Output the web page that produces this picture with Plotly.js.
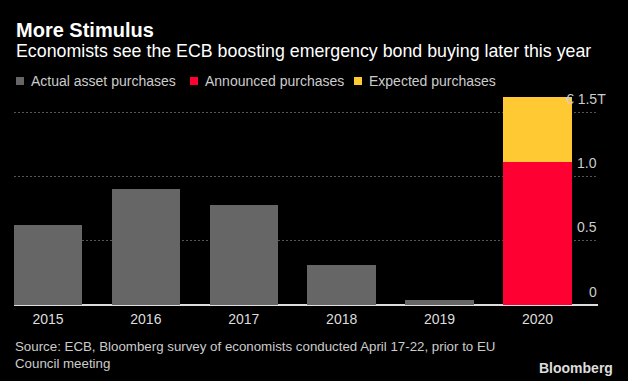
<!DOCTYPE html>
<html>
<head>
<meta charset="utf-8">
<script src="https://cdn.plot.ly/plotly-3.0.1.min.js"></script>
<style>html,body{margin:0;padding:0;background:#000;}#chart{width:628px;height:381px;}</style>
</head>
<body>
<div id="chart"></div>
<script>
// ---- data ----
var years = ['2015', '2016', '2017', '2018', '2019', '2020'];
var actualPurchases = [0.62, 0.90, 0.78, 0.31, 0.04, null];
var announcedPurchases = [null, null, null, null, null, 1.115];
var expectedPurchases = [null, null, null, null, null, 0.50];
var seriesNames = ['Actual asset purchases', 'Announced purchases', 'Expected purchases'];
var seriesColors = ['#666666', '#ff0033', '#ffc933'];
var yTickVals = [0, 0.5, 1.0, 1.5];
var yTickText = ['0', '0.5', '1.0', '€ 1.5T'];
var titleText = 'More Stimulus';
var subtitleText = 'Economists see the ECB boosting emergency bond buying later this year';
var sourceText = 'Source: ECB, Bloomberg survey of economists conducted April 17-22, prior to EU<br>Council meeting';
var logoText = 'Bloomberg';

// ---- layout helpers (pixel -> paper) ----
var W = 628, H = 381, ML = 14, MR = 30, MT = 89, MB = 76;
var PW = W - ML - MR, PH = H - MT - MB;
function px(x) { return (x - ML) / PW; }
function py(y) { return (H - MB - y) / PH; }
var FONT = 'Liberation Sans, Arial, sans-serif';

var traces = [actualPurchases, announcedPurchases, expectedPurchases].map(function (vals, i) {
  return {
    type: 'bar', x: years, y: vals, name: seriesNames[i],
    marker: {color: seriesColors[i], line: {width: 0}},
    showlegend: false, hoverinfo: 'x+y'
  };
});

var annotations = [
  {text: '<b>' + titleText + '</b>', xref: 'paper', yref: 'paper', x: px(14), y: py(30),
   xanchor: 'left', yanchor: 'middle', showarrow: false, font: {family: FONT, size: 20, color: '#ffffff'}},
  {text: subtitleText, xref: 'paper', yref: 'paper', x: px(14), y: py(51),
   xanchor: 'left', yanchor: 'middle', showarrow: false, font: {family: FONT, size: 17.8, color: '#ffffff'}},
  {text: sourceText, xref: 'paper', yref: 'paper', x: px(13), y: py(355), align: 'left',
   xanchor: 'left', yanchor: 'middle', showarrow: false, font: {family: FONT, size: 13.3, color: '#cccccc'}},
  {text: '<b>' + logoText + '</b>', xref: 'paper', yref: 'paper', x: px(615), y: py(368),
   xanchor: 'right', yanchor: 'middle', showarrow: false, font: {family: FONT, size: 14, color: '#dddddd'}}
];
var shapes = [];
var legendX = [16, 190, 354];
seriesNames.forEach(function (n, i) {
  shapes.push({type: 'rect', xref: 'paper', yref: 'paper', x0: px(legendX[i]), x1: px(legendX[i] + 8),
    y0: py(85), y1: py(77), fillcolor: seriesColors[i], line: {width: 0}});
  annotations.push({text: n, xref: 'paper', yref: 'paper', x: px(legendX[i] + 13), y: py(81),
    xanchor: 'left', yanchor: 'middle', showarrow: false, font: {family: FONT, size: 14, color: '#cccccc'}});
});
yTickVals.forEach(function (v, i) {
  annotations.push({text: yTickText[i], xref: 'paper', yref: 'y', x: 1, y: v, yshift: 13.5,
    xshift: i === yTickVals.length - 1 ? 10 : 1,
    xanchor: 'right', yanchor: 'middle', showarrow: false, font: {family: FONT, size: 14, color: '#cccccc'}});
});

var layout = {
  width: W, height: H,
  margin: {l: ML, r: MR, t: MT, b: MB, pad: 0},
  paper_bgcolor: '#000000', plot_bgcolor: '#000000',
  barmode: 'stack', bargap: 0.3,
  showlegend: false,
  xaxis: {type: 'category', range: [-0.347, 5.618], showgrid: false, zeroline: false, showline: false,
    ticks: '', ticklabelstandoff: 4, tickfont: {family: FONT, size: 14, color: '#dddddd'}, fixedrange: true},
  yaxis: {range: [0, 1.68], tickvals: yTickVals, showticklabels: false, showgrid: true,
    gridcolor: '#555555', griddash: '1.5px,2.5px', gridwidth: 1,
    zeroline: true, zerolinecolor: '#dddddd', zerolinewidth: 1.5, showline: false, fixedrange: true},
  annotations: annotations, shapes: shapes
};

Plotly.newPlot('chart', traces, layout, {displayModeBar: false, staticPlot: true});
</script>
</body>
</html>
